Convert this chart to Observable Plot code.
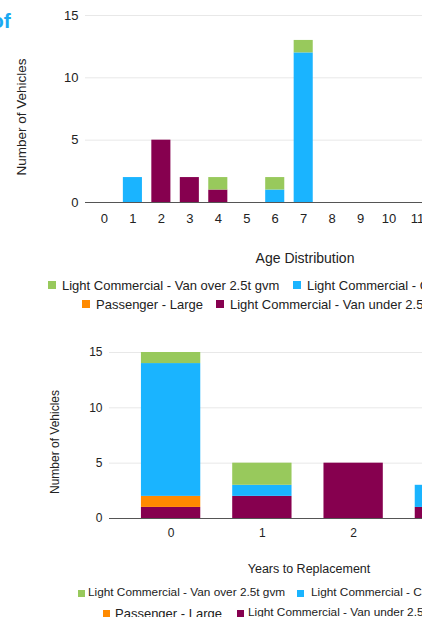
<!DOCTYPE html>
<html><head><meta charset="utf-8">
<script src="https://cdn.jsdelivr.net/npm/d3@7"></script>
<script src="https://cdn.jsdelivr.net/npm/@observablehq/plot@0.6"></script>
<style>
body{margin:0;background:#fff;font-family:"Liberation Sans",Arial,sans-serif;}
#page{position:relative;width:422px;height:617px;overflow:hidden;background:#fff;}
.t{position:absolute;white-space:nowrap;color:#222;line-height:1;}
.sw{position:absolute;}
#page svg{position:absolute;max-width:none !important;}
</style></head><body><div id="page"></div>
<script>
// Series (bottom-to-top stacking order)
const seriesStack = ["Light Commercial - Van under 2.5t gvm", "Passenger - Large", "Light Commercial - Car Derived Van", "Light Commercial - Van over 2.5t gvm"];
const seriesColors = ["#86004f", "#ff8a00", "#1ab4ff", "#98c95c"];

// Age Distribution
const ageCategories = ["0","1","2","3","4","5","6","7","8","9","10","11"];
const ageVanUnder   = [0,0,5,2,1,0,0,0,0,0,0,0];
const agePassenger  = [0,0,0,0,0,0,0,0,0,0,0,0];
const ageCarDerived = [0,2,0,0,0,0,1,12,0,0,0,0];
const ageVanOver    = [0,0,0,0,1,0,1,1,0,0,0,0];

// Years to Replacement
const repCategories = ["0","1","2","3"];
const repVanUnder   = [1,2,5,1];
const repPassenger  = [1,0,0,0];
const repCarDerived = [12,1,0,2];
const repVanOver    = [1,2,0,0];

const yTicks = [0,5,10,15];

function rows(cats, arrs){
  const out = [];
  cats.forEach((c,i)=>{ arrs.forEach((a,j)=>{ if(a[i]>0) out.push({cat:c, series:seriesStack[j], value:a[i]}); }); });
  return out;
}
const ageRows = rows(ageCategories, [ageVanUnder, agePassenger, ageCarDerived, ageVanOver]);
const repRows = rows(repCategories, [repVanUnder, repPassenger, repCarDerived, repVanOver]);

const page = document.getElementById("page");
function text(s, x, y, size, opts={}){
  const d = document.createElement("div");
  d.className = "t"; d.textContent = s;
  d.style.left = x+"px"; d.style.top = y+"px"; d.style.fontSize = size+"px";
  let tr = opts.center ? "translate(-50%,-50%)" : "translate(0,-50%)";
  if (opts.rotate) tr += " rotate(-90deg)";
  d.style.transform = tr;
  if (opts.color) d.style.color = opts.color;
  if (opts.bold) d.style.fontWeight = "bold";
  page.appendChild(d);
  return d;
}
function swatch(x, y, s, c){
  const d = document.createElement("div");
  d.className = "sw"; d.style.left = x+"px"; d.style.top = (y - s/2)+"px";
  d.style.width = s+"px"; d.style.height = s+"px"; d.style.background = c;
  page.appendChild(d);
}
function chart(data, cats, o){
  const svg = Plot.plot({
    width: o.width, height: o.height,
    marginTop: o.mt, marginBottom: o.mb, marginLeft: o.ml, marginRight: o.mr,
    style: {fontFamily: "Liberation Sans, Arial, sans-serif", fontSize: o.fs+"px", color: "#222", background: "transparent", maxWidth: "none"},
    x: {type: "band", domain: cats, padding: o.pad, round: false},
    y: {domain: [0,15]},
    color: {domain: seriesStack, range: seriesColors},
    marks: [
      Plot.gridY(yTicks.filter(v=>v>0), {stroke: "#e8e8e8", strokeOpacity: 1}),
      Plot.barY(data, {x: "cat", y: "value", fill: "series", order: seriesStack}),
      Plot.ruleY([0], {stroke: "#555", strokeWidth: 1}),
      Plot.axisY(yTicks, {tickSize: 0, tickPadding: 7, label: null, fontSize: o.fs}),
      Plot.axisX({tickSize: 0, tickPadding: o.xpad, label: null, fontSize: o.fs})
    ]
  });
  svg.style.left = "0px"; svg.style.top = o.top+"px";
  svg.style.width = o.width+"px"; svg.style.height = o.height+"px";
  page.appendChild(svg);
}

// Clipped heading fragment
text("of", -9, 20, 21, {color: "#1aa9f2", bold: true});

// Chart 1
chart(ageRows, ageCategories, {width: 440, height: 230, top: 0, mt: 15, mb: 28, ml: 85, mr: 4, pad: 0.33, fs: 13, xpad: 11});
text("Number of Vehicles", 22, 117, 13.5, {center: true, rotate: true});
text("Age Distribution", 305, 258, 14, {center: true});
swatch(48, 285, 8, seriesColors[3]); text(seriesStack[3], 62, 285, 13);
swatch(293, 285, 8, seriesColors[2]); text(seriesStack[2], 307, 285, 13);
swatch(82, 304, 8, seriesColors[1]); text(seriesStack[1], 96, 304, 13);
swatch(216, 304, 8, seriesColors[0]); text(seriesStack[0], 230, 304, 13);

// Chart 2
chart(repRows, repCategories, {width: 520, height: 220, top: 330, mt: 22, mb: 32, ml: 109, mr: 14, pad: 0.35, fs: 12, xpad: 10});
text("Number of Vehicles", 55, 442, 12, {center: true, rotate: true});
text("Years to Replacement", 309, 569, 12.5, {center: true});
swatch(78, 593, 7, seriesColors[3]); text(seriesStack[3], 88, 593, 11.8);
swatch(297, 593, 7, seriesColors[2]); text(seriesStack[2], 311, 593, 11.8);
swatch(103, 613, 7, seriesColors[1]); text(seriesStack[1], 115, 613, 13);
swatch(237, 613, 7, seriesColors[0]); text(seriesStack[0], 248, 613, 11.8);
</script></body></html>
